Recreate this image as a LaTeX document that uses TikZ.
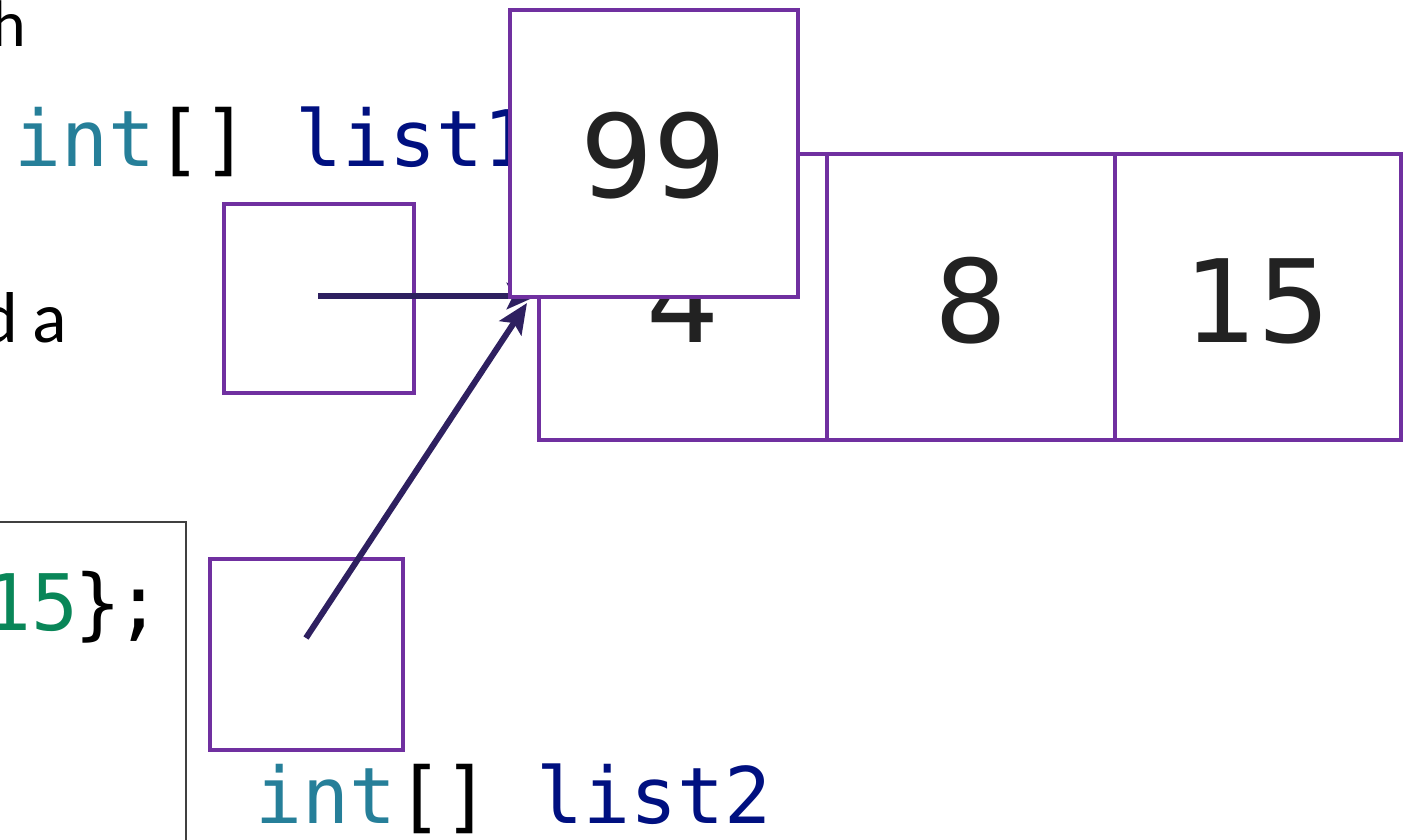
\documentclass[tikz,border=0pt]{standalone}
\usepackage{fontspec}
\setmainfont{Carlito}
\newfontfamily\codefont{DejaVu Sans Mono}
\newfontfamily\numfont{DejaVu Sans}
\usetikzlibrary{arrows.meta}
\definecolor{boxc}{HTML}{7030A0}
\definecolor{ptrc}{HTML}{2E2060}
\definecolor{typec}{HTML}{267F99}
\definecolor{varc}{HTML}{001080}
\definecolor{numc}{HTML}{098658}
\definecolor{digc}{HTML}{222222}
\definecolor{framec}{HTML}{404040}
\tikzset{
  varbox/.style={draw=boxc, line width=4pt, rectangle, inner sep=0pt},
  cell/.style={draw=boxc, line width=4pt, rectangle, inner sep=0pt, minimum height=286pt},
  digit/.style={font=\numfont\fontsize{115}{120}\selectfont, text=digc, inner sep=0pt},
  codetxt/.style={font=\codefont\fontsize{78}{82}\selectfont, inner sep=0pt},
  prose/.style={inner sep=0pt, text=black},
  ptr/.style={draw=ptrc, line width=6pt, -{Stealth[length=30pt,width=26pt,inset=6pt]}},
  codeframe/.style={draw=framec, line width=1.5pt}
}
\begin{document}
\begin{tikzpicture}[x=1pt,y=-1pt]
\clip (0,0) rectangle (1408,840);
\fill[white] (0,0) rectangle (1408,840);
% code frame at lower left
\draw[codeframe] (-20,522) rectangle (186,900);
% texts
\node[prose, anchor=base east, font=\fontsize{66}{70}\selectfont] (h) at (26,47) {h};
\node[prose, anchor=base east, font=\fontsize{72}{80}\selectfont] (da) at (67,342) {d\hspace{14pt}a};
\node[codetxt, anchor=base west] (decl1) at (14,166) {\textcolor{typec}{int}[] \textcolor{varc}{list1}};
\node[codetxt, anchor=base east] (code15) at (163,630) {\textcolor{numc}{15}\hspace{-4pt}\}\hspace{-6pt};};
\node[codetxt, anchor=base west] (decl2) at (255,823) {\textcolor{typec}{int}[] \textcolor{varc}{list2}};
% variable boxes
\node[varbox, minimum width=190pt, minimum height=189pt] (varA) at (319,298.5) {};
\node[varbox, minimum width=193pt, minimum height=191pt] (varB) at (306.5,654.5) {};
% array cells
\node[cell, minimum width=288pt] (c1) at (683,297) {};
\node[cell, minimum width=288pt] (c2) at (971,297) {};
\node[cell, minimum width=286pt] (c3) at (1258,297) {};
\node[digit] (t1) at (c1.center) [yshift=-4pt] {4};
\node[digit] (t2) at (c2.center) [yshift=-4pt] {8};
\node[digit] (t3) at (c3.center) [yshift=-4pt] {15};
% pointers
\coordinate (a1s) at (318,296);
\coordinate (b1s) at (306,638);
\coordinate (b1e) at (527,303);
\draw[ptr] (a1s) -- (c1.west |- a1s);
\draw[ptr] (b1s) -- (b1e);
% new value box on top
\node[cell, fill=white, minimum width=288pt, minimum height=287pt] (v99) at (654,153.5) {};
\node[digit] (t99) at (v99.center) [yshift=-2pt] {99};
\end{tikzpicture}
\end{document}
